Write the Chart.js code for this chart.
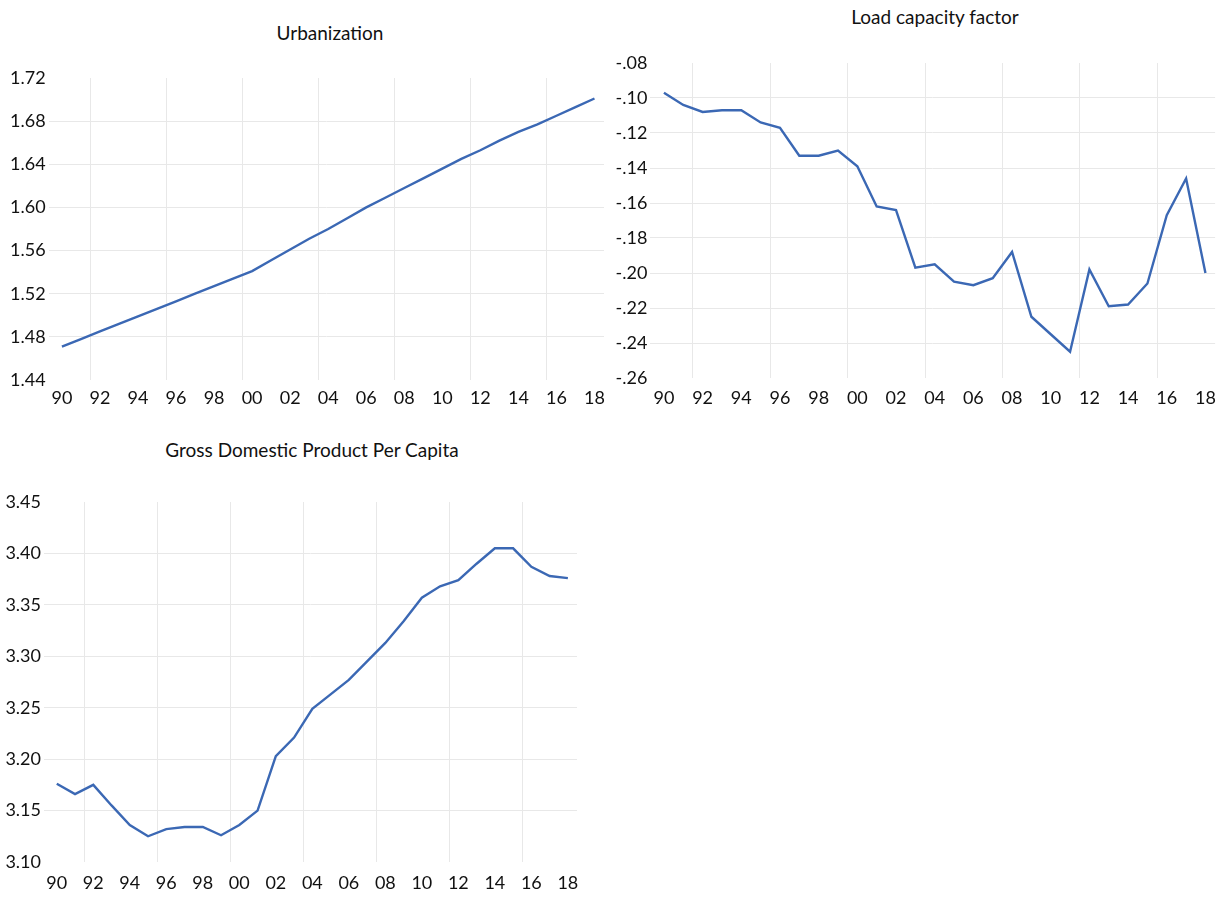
<!DOCTYPE html>
<html lang="en">
<head>
<meta charset="UTF-8">
<script src="https://cdn.jsdelivr.net/npm/chart.js@4.4.1/dist/chart.umd.min.js"></script>
<title>Urbanization, Load capacity factor, GDP per capita</title>
<style>
  body { margin: 0; background: #fff; width: 1225px; height: 898px; position: relative; overflow: hidden; font-family: Lato, sans-serif; }
  .box { position: absolute; }
  .ttl { position: absolute; font-size: 19px; line-height: 22px; color: #111; text-align: center; white-space: nowrap; }
</style>
</head>
<body>
  <div class="ttl" style="left:230px;top:22px;width:200px">Urbanization</div>
  <div class="ttl" style="left:785px;top:6px;width:300px">Load capacity factor</div>
  <div class="ttl" style="left:112px;top:439px;width:400px">Gross Domestic Product Per Capita</div>

  <div class="box" style="left:0;top:0"><canvas id="urb" width="612" height="410"></canvas></div>
  <div class="box" style="left:612px;top:0"><canvas id="lcf" width="613" height="410"></canvas></div>
  <div class="box" style="left:0;top:410px"><canvas id="gdp" width="612" height="488"></canvas></div>

<script>
  const years = [1990, 1991, 1992, 1993, 1994, 1995, 1996, 1997, 1998, 1999,
    2000, 2001, 2002, 2003, 2004, 2005, 2006, 2007, 2008, 2009,
    2010, 2011, 2012, 2013, 2014, 2015, 2016, 2017, 2018];
  const tickYears = [1990, 1992, 1994, 1996, 1998, 2000, 2002, 2004, 2006, 2008, 2010, 2012, 2014, 2016, 2018];
  const tickLabels = ['90', '92', '94', '96', '98', '00', '02', '04', '06', '08', '10', '12', '14', '16', '18'];

  const urbanization = [1.471, 1.478, 1.485, 1.492, 1.499, 1.506, 1.513, 1.520, 1.527, 1.534,
    1.541, 1.551, 1.561, 1.571, 1.580, 1.590, 1.600, 1.609, 1.618, 1.627,
    1.636, 1.645, 1.653, 1.662, 1.670, 1.677, 1.685, 1.693, 1.701];
  const loadCapacity = [-0.097, -0.104, -0.108, -0.107, -0.107, -0.114, -0.117, -0.133, -0.133, -0.130,
    -0.139, -0.162, -0.164, -0.197, -0.195, -0.205, -0.207, -0.203, -0.188, -0.225,
    -0.235, -0.245, -0.198, -0.219, -0.218, -0.206, -0.167, -0.146, -0.200];
  const gdpPerCapita = [3.176, 3.166, 3.175, 3.155, 3.136, 3.125, 3.132, 3.134, 3.134, 3.126,
    3.136, 3.150, 3.203, 3.221, 3.249, 3.263, 3.277, 3.295, 3.313, 3.334,
    3.357, 3.368, 3.374, 3.390, 3.405, 3.405, 3.387, 3.378, 3.376];

  const lineColor = '#3b68b4';
  const gridColor = '#e8e8e8';
  const textColor = '#111';
  // vertical grid sits half way between the labelled years, every 4 years
  const gridYears = [1991.5, 1995.5, 1999.5, 2003.5, 2007.5, 2011.5, 2015.5];

  function makeChart(id, values, o) {
    const allTicks = tickYears.concat(gridYears).sort((a, b) => a - b);
    new Chart(id, {
      type: 'line',
      data: {
        datasets: [{
          data: years.map((y, i) => ({ x: y, y: values[i] })),
          borderColor: lineColor,
          borderWidth: 2.4,
          pointRadius: 0,
          tension: 0,
          fill: false
        }]
      },
      options: {
        responsive: false,
        animation: false,
        layout: { padding: { top: o.top, right: o.right, left: 0, bottom: 0 } },
        plugins: { legend: { display: false }, tooltip: { enabled: false } },
        scales: {
          x: {
            type: 'linear',
            min: o.xmin,
            max: 2018.5,
            afterBuildTicks: s => { s.ticks = allTicks.map(v => ({ value: v })); },
            afterFit: s => { s.height = o.xh; },
            border: { display: false },
            grid: {
              drawTicks: false,
              color: c => (c.tick && gridYears.includes(c.tick.value)) ? gridColor : 'rgba(0,0,0,0)'
            },
            ticks: {
              autoSkip: false,
              maxRotation: 0,
              padding: o.xpad,
              color: textColor,
              font: { family: 'Lato', size: 18 },
              callback: v => {
                const i = tickYears.indexOf(v);
                return i < 0 ? '' : tickLabels[i];
              }
            }
          },
          y: {
            min: o.ymin,
            max: o.ymax,
            afterFit: s => { s.width = o.yw; },
            border: { display: false },
            grid: {
              drawTicks: false,
              color: c => (c.tick && (Math.abs(c.tick.value - o.ymin) < 1e-6 || Math.abs(c.tick.value - o.ymax) < 1e-6)) ? 'rgba(0,0,0,0)' : gridColor
            },
            ticks: {
              stepSize: o.step,
              padding: 3,
              color: textColor,
              font: { family: 'Lato', size: 18 },
              callback: o.fmt
            }
          }
        }
      }
    });
  }

  makeChart('urb', urbanization, {
    top: 78, right: 4, xmin: 1989.3, xh: 30, xpad: 7, yw: 48.6,
    ymin: 1.44, ymax: 1.72, step: 0.04, fmt: v => v.toFixed(2)
  });
  makeChart('lcf', loadCapacity, {
    top: 63, right: 7, xmin: 1989.3, xh: 32, xpad: 9, yw: 38.4,
    ymin: -0.26, ymax: -0.08, step: 0.02, fmt: v => v.toFixed(2).replace('0.', '.')
  });
  makeChart('gdp', gdpPerCapita, {
    top: 92, right: 35, xmin: 1989.3, xh: 36, xpad: 10, yw: 44,
    ymin: 3.10, ymax: 3.45, step: 0.05, fmt: v => v.toFixed(2)
  });
</script>
</body>
</html>
